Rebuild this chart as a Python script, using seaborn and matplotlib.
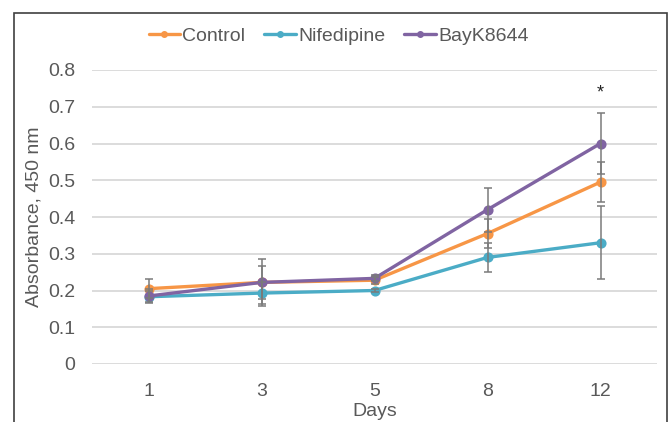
import matplotlib
matplotlib.use("Agg")
import matplotlib.pyplot as plt
from matplotlib.lines import Line2D
from matplotlib.patches import Rectangle
import seaborn as sns
import pandas as pd

days = ["1", "3", "5", "8", "12"]
series_names = ["Control", "Nifedipine", "BayK8644"]
control = [0.205, 0.222, 0.228, 0.355, 0.495]
nifedipine = [0.183, 0.193, 0.200, 0.290, 0.330]
bayk = [0.185, 0.222, 0.233, 0.420, 0.600]
control_err = [0.025, 0.045, 0.010, 0.040, 0.055]
nifedipine_err = [0.015, 0.030, 0.005, 0.040, 0.100]
bayk_err = [0.020, 0.063, 0.008, 0.060, 0.082]
yticks = [0, 0.1, 0.2, 0.3, 0.4, 0.5, 0.6, 0.7, 0.8]
ytick_labels = ["0", "0.1", "0.2", "0.3", "0.4", "0.5", "0.6", "0.7", "0.8"]
star_day = "12"
star_y = 0.737

colors = {"Control": "#F79646", "Nifedipine": "#4BACC6", "BayK8644": "#8064A2"}
values = {"Control": control, "Nifedipine": nifedipine, "BayK8644": bayk}
errors = {"Control": control_err, "Nifedipine": nifedipine_err, "BayK8644": bayk_err}

rows = []
for name in series_names:
    for d, v in zip(days, values[name]):
        rows.append({"Days": d, "Absorbance": v, "Group": name})
df = pd.DataFrame(rows)

sns.set_theme(style="white")
plt.rcParams["font.family"] = ["Liberation Sans", "DejaVu Sans"]

FS = 14
TXT = "#595959"

fig = plt.figure(figsize=(6.69, 4.22), dpi=100)
ax = fig.add_axes([92 / 669, 1 - 364 / 422, (657 - 92) / 669, (364 - 70) / 422])

sns.pointplot(data=df, x="Days", y="Absorbance", hue="Group", order=days,
              hue_order=series_names, palette=colors, errorbar=None,
              markers="o", linestyles="-", markersize=5.5, linewidth=2.4,
              legend=False, ax=ax)

xpos = list(range(len(days)))
for name in series_names:
    ax.errorbar(xpos, values[name], yerr=errors[name], fmt="none",
                ecolor="#7a7a7a", elinewidth=1.1, capsize=3, capthick=1.1,
                zorder=6)

ax.text(days.index(star_day), star_y, "*", ha="center", va="center",
        fontsize=13, color="#222222")

ax.set_ylim(0, 0.8)
ax.set_xlim(-0.5, len(days) - 0.5)
ax.set_yticks(yticks)
ax.set_yticklabels(ytick_labels)
ax.yaxis.grid(True, color="#d9d9d9", linewidth=1.3)
ax.xaxis.grid(False)
ax.set_axisbelow(True)
for s in ax.spines.values():
    s.set_visible(False)
ax.tick_params(axis="both", length=0, labelsize=FS, colors=TXT)
ax.tick_params(axis="y", pad=12)
ax.tick_params(axis="x", pad=14)
ax.set_xlabel("Days", fontsize=FS, color=TXT, labelpad=2)
ax.set_ylabel("Absorbance, 450 nm", fontsize=FS, color=TXT, labelpad=4)

handles = [Line2D([0], [0], color=colors[n], lw=2.4, marker="o", markersize=4)
           for n in series_names]
fig.legend(handles, series_names, loc="center", bbox_to_anchor=(0.506, 1 - 36 / 422),
           ncol=3, frameon=False, fontsize=FS, handlelength=1.6,
           handletextpad=0.12, columnspacing=1.0, labelcolor=TXT)

fig.patches.append(Rectangle((14 / 669, -0.1), (667 - 14) / 669, 1 - 13 / 422 + 0.1,
                             transform=fig.transFigure, fill=False,
                             edgecolor="#404040", linewidth=1.2))

fig.savefig("out.png", dpi=100)
